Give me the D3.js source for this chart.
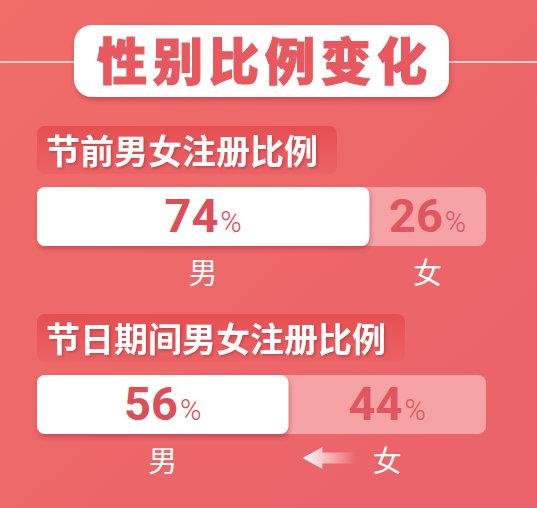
<!DOCTYPE html>
<html>
<head>
<meta charset="utf-8">
<script src="https://cdn.jsdelivr.net/npm/d3@7"></script>
<style>
  html, body { margin: 0; padding: 0; background: #ee6868; }
  svg { display: block; }
  text { font-family: "Noto Sans CJK SC", "Noto Sans", sans-serif; }
</style>
</head>
<body>
<div id="chart"></div>
<script>
// data
const chartTitle = '性别比例变化';
const sections = ['节前男女注册比例', '节日期间男女注册比例'];
const maleShare = [74, 56];
const femaleShare = [26, 44];
const genders = ['男', '女'];

const width = 537, height = 508;
const barTop = [187, 375];
const barH = 59;

const svg = d3.select('#chart').append('svg')
    .attr('width', width)
    .attr('height', height)
    .attr('viewBox', '0 0 ' + width + ' ' + height);

const defs = svg.append('defs');

const bg = defs.append('linearGradient').attr('id', 'bg')
    .attr('x1', 0).attr('y1', 0).attr('x2', 1).attr('y2', 1);
bg.append('stop').attr('offset', '0%').attr('stop-color', '#f06d68');
bg.append('stop').attr('offset', '100%').attr('stop-color', '#ea626a');

const tag = defs.append('linearGradient').attr('id', 'tag')
    .attr('x1', 0).attr('y1', 0).attr('x2', 0).attr('y2', 1);
tag.append('stop').attr('offset', '0%').attr('stop-color', '#e64f52');
tag.append('stop').attr('offset', '100%').attr('stop-color', '#ec6264');

const arrowGrad = defs.append('linearGradient').attr('id', 'arrowGrad')
    .attr('x1', 0).attr('y1', 0).attr('x2', 1).attr('y2', 0);
arrowGrad.append('stop').attr('offset', '0%').attr('stop-color', '#fff').attr('stop-opacity', 1);
arrowGrad.append('stop').attr('offset', '100%').attr('stop-color', '#fff').attr('stop-opacity', 0);

const shadow = defs.append('filter').attr('id', 'shadow')
    .attr('x', '-10%').attr('y', '-20%').attr('width', '130%').attr('height', '160%');
shadow.append('feDropShadow').attr('dx', 1).attr('dy', 3).attr('stdDeviation', 2.5)
    .attr('flood-color', '#a8283a').attr('flood-opacity', 0.45);

const textShadow = defs.append('filter').attr('id', 'textShadow');
textShadow.append('feDropShadow').attr('dx', 1.5).attr('dy', 1.5).attr('stdDeviation', 0.8)
    .attr('flood-color', '#b0303a').attr('flood-opacity', 0.6);

svg.append('rect').attr('width', width).attr('height', height).attr('fill', 'url(#bg)');

// TITLE
svg.append('line')
    .attr('x1', 0).attr('x2', width).attr('y1', 62).attr('y2', 62)
    .attr('stroke', '#fff').attr('stroke-width', 1.5).attr('opacity', 0.9);

svg.append('rect')
    .attr('x', 74).attr('y', 25).attr('width', 375).attr('height', 72).attr('rx', 18)
    .attr('fill', '#fff').attr('filter', 'url(#shadow)');

svg.append('text')
    .attr('x', 262 + 3).attr('y', 80)
    .attr('text-anchor', 'middle')
    .attr('font-size', 50).attr('font-weight', 900)
    .attr('letter-spacing', 6)
    .attr('fill', '#e8595f')
    .attr('stroke', '#e8595f').attr('stroke-width', 1.2)
    .text(chartTitle);

// BARS
const x = d3.scaleLinear().domain([0, 100]).range([37, 486]);

sections.forEach(function(name, i) {
    const top = barTop[i];
    const g = svg.append('g').attr('class', 'section');

    // section label
    const tagG = g.append('g');
    const tagRect = tagG.append('rect')
        .attr('x', x(0)).attr('y', top - 61).attr('height', 48).attr('rx', 8)
        .attr('fill', 'url(#tag)');
    const label = tagG.append('text')
        .attr('x', x(0) + 9).attr('y', top - 23)
        .attr('font-size', 34).attr('font-weight', 700)
        .attr('fill', '#fff').attr('filter', 'url(#textShadow)')
        .text(name);
    tagRect.attr('width', label.node().getComputedTextLength() + 28);

    const split = x(maleShare[i]);

    // female (background) bar
    g.append('rect')
        .attr('x', x(0)).attr('y', top).attr('width', x(100) - x(0)).attr('height', barH).attr('rx', 8)
        .attr('fill', '#f5a6a8').attr('opacity', 0.95);

    // male bar
    g.append('rect')
        .attr('x', x(0)).attr('y', top).attr('width', split - x(0)).attr('height', barH).attr('rx', 8)
        .attr('fill', '#fff').attr('filter', 'url(#shadow)');

    const centers = [(x(0) + split) / 2, (split + x(100)) / 2];
    const values = [maleShare[i], femaleShare[i]];

    values.forEach(function(v, j) {
        const t = g.append('text')
            .attr('x', centers[j]).attr('y', top + 45)
            .attr('text-anchor', 'middle')
            .attr('fill', j === 0 ? '#dc4e58' : '#e05560');
        t.append('tspan').attr('font-family', 'Roboto, sans-serif')
            .attr('font-size', 47).attr('font-weight', 700).text(v);
        t.append('tspan').attr('font-family', 'Roboto, sans-serif')
            .attr('font-size', 29).attr('font-weight', 300).attr('dx', 2).text('%');

        g.append('text')
            .attr('x', centers[j]).attr('y', top + barH + 38)
            .attr('text-anchor', 'middle')
            .attr('font-size', 29).attr('fill', '#fff')
            .text(genders[j]);
    });

    // arrow when female share grows toward male
    if (i === 1) {
        const ay = top + barH + 24;
        const ax = split + 14;
        g.append('path')
            .attr('d', 'M' + ax + ',' + ay +
                ' L' + (ax + 20) + ',' + (ay - 11) +
                ' L' + (ax + 20) + ',' + (ay - 5.5) +
                ' L' + (ax + 54) + ',' + (ay - 5.5) +
                ' L' + (ax + 54) + ',' + (ay + 5.5) +
                ' L' + (ax + 20) + ',' + (ay + 5.5) +
                ' L' + (ax + 20) + ',' + (ay + 11) + ' Z')
            .attr('fill', 'url(#arrowGrad)');
    }
});
</script>
</body>
</html>
